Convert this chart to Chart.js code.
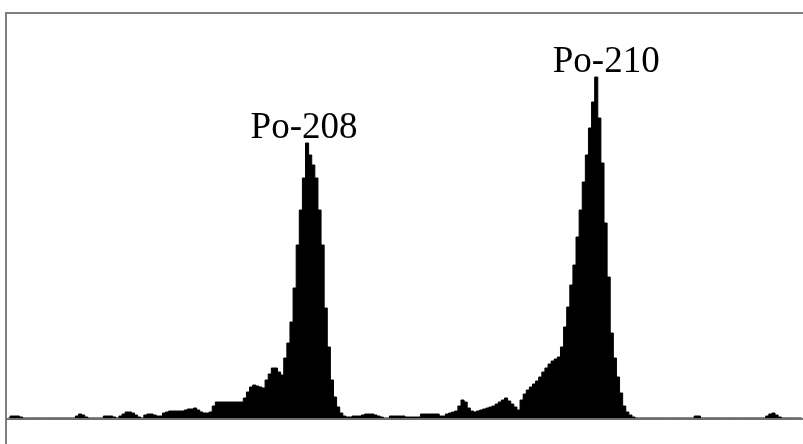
<!DOCTYPE html>
<html>
<head>
<meta charset="utf-8">
<script src="https://cdn.jsdelivr.net/npm/chart.js@4.4.1/dist/chart.umd.min.js"></script>
<style>
  html, body { margin: 0; padding: 0; background: #fff; }
  canvas { display: block; }
</style>
</head>
<body>
<canvas id="spectrum" width="803" height="444"></canvas>
<script>
// alpha spectrum, counts per channel (256 channels)
const counts = [
  0, 2, 2, 2, 1, 0, 0, 0, 0, 0, 0, 0, 0, 0, 0, 0,
  0, 0, 0, 0, 0, 0, 2, 4, 3, 1, 0, 0, 0, 0, 0, 2,
  2, 2, 1, 0, 2, 4, 6, 6, 5, 3, 1, 0, 3, 4, 4, 3,
  2, 2, 5, 6, 7, 7, 7, 7, 7, 8, 9, 9, 10, 8, 6, 5,
  5, 6, 12, 16, 16, 16, 16, 16, 16, 16, 16, 16, 20, 26, 31, 33,
  32, 31, 30, 38, 44, 50, 50, 46, 43, 60, 75, 96, 130, 173, 208, 240,
  275, 263, 253, 240, 208, 173, 110, 71, 38, 21, 11, 5, 2, 1, 1, 2,
  2, 2, 3, 4, 4, 4, 3, 2, 1, 0, 0, 2, 2, 2, 2, 2,
  1, 1, 1, 1, 1, 4, 4, 4, 4, 4, 4, 2, 2, 4, 5, 6,
  7, 12, 18, 16, 10, 7, 6, 7, 8, 9, 10, 11, 12, 14, 16, 18,
  20, 17, 14, 11, 8, 18, 24, 28, 31, 34, 37, 41, 46, 50, 54, 57,
  59, 61, 71, 91, 111, 133, 153, 181, 208, 236, 263, 290, 316, 341, 300, 255,
  195, 141, 85, 60, 41, 25, 12, 6, 3, 1, 0, 0, 0, 0, 0, 0,
  0, 0, 0, 0, 0, 0, 0, 0, 0, 0, 0, 0, 0, 2, 2, 0,
  0, 0, 0, 0, 0, 0, 0, 0, 0, 0, 0, 0, 0, 0, 0, 0,
  0, 0, 0, 0, 2, 4, 5, 3, 1, 0, 0, 0, 0, 0, 0, 0
];
const channels = counts.map((v, i) => i);

// peak names and the channel they sit on
const peakNames = ['Po-208', 'Po-210'];
const peakChannels = [96, 189];
const countMax = 404;

// gray frame + baseline
const framePlugin = {
  id: 'frame',
  beforeDraw(chart) {
    const ctx = chart.ctx;
    ctx.save();
    ctx.fillStyle = '#ffffff';
    ctx.fillRect(0, 0, chart.width, chart.height);
    ctx.restore();
  },
  afterDatasetsDraw(chart) {
    const ctx = chart.ctx;
    const a = chart.chartArea;
    ctx.save();
    ctx.strokeStyle = '#808080';
    ctx.lineWidth = 2;
    ctx.beginPath();
    ctx.moveTo(a.left - 1, a.top - 1);
    ctx.lineTo(chart.width, a.top - 1);
    ctx.moveTo(a.left - 1, a.top - 2);
    ctx.lineTo(a.left - 1, chart.height);
    ctx.stroke();
    ctx.strokeStyle = '#6e6e6e';
    ctx.beginPath();
    ctx.moveTo(a.left - 1, a.bottom + 1);
    ctx.lineTo(chart.width, a.bottom + 1);
    ctx.stroke();
    ctx.restore();
  }
};

// peak name above each peak
const peakLabelPlugin = {
  id: 'peakLabels',
  afterDatasetsDraw(chart, args, opts) {
    const ctx = chart.ctx;
    const xs = chart.scales.x, ys = chart.scales.y;
    ctx.save();
    ctx.fillStyle = '#000';
    ctx.font = '37px "Liberation Serif", "Times New Roman", serif';
    ctx.textAlign = 'center';
    ctx.textBaseline = 'alphabetic';
    peakNames.forEach((name, i) => {
      const ch = peakChannels[i];
      const x = xs.getPixelForValue(ch) + opts.dx[i];
      const y = ys.getPixelForValue(counts[ch]) - 5;
      ctx.fillText(name, x, y);
    });
    ctx.restore();
  }
};

const config = {
  type: 'line',
  data: {
    labels: channels,
    datasets: [{
      label: 'counts',
      data: counts,
      stepped: 'middle',
      fill: 'origin',
      backgroundColor: '#000000',
      borderColor: '#000000',
      borderWidth: 1,
      pointRadius: 0
    }]
  },
  options: {
    responsive: false,
    animation: false,
    devicePixelRatio: 1,
    layout: { padding: { left: 7, right: 0, top: 14, bottom: 26 } },
    scales: {
      x: { type: 'category', offset: true, display: false },
      y: { min: 0, max: countMax, display: false }
    },
    plugins: {
      legend: { display: false },
      tooltip: { enabled: false },
      peakLabels: { dx: [-3, 10] }
    }
  },
  plugins: [framePlugin, peakLabelPlugin]
};

const spectrumChart = new Chart(document.getElementById('spectrum'), config);
</script>
</body>
</html>
